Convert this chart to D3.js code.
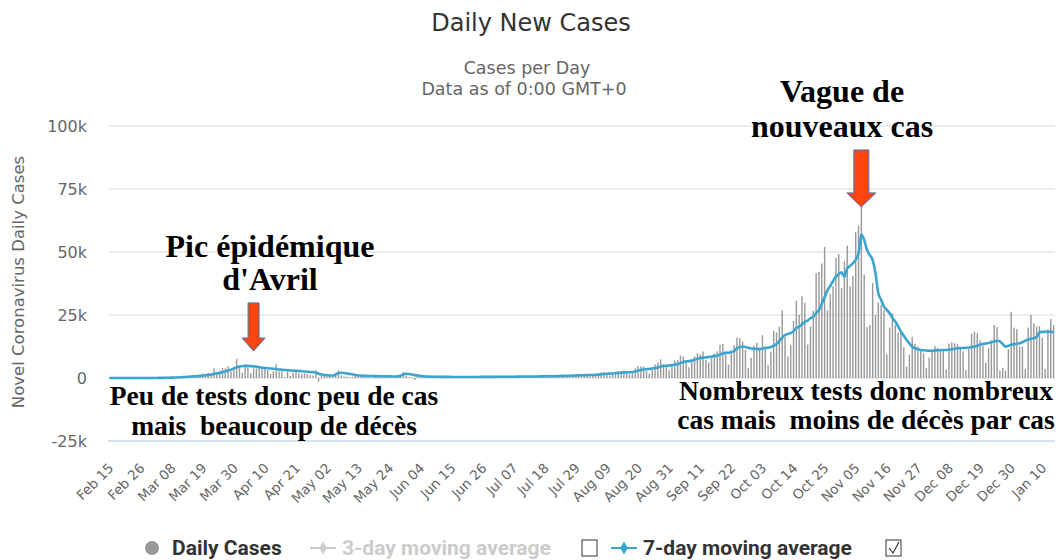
<!DOCTYPE html>
<html lang="fr">
<head>
<meta charset="UTF-8">
<title>Daily New Cases</title>
<script src="https://d3js.org/d3.v7.min.js"></script>
<style>
  body { margin: 0; background: #fff; }
  svg { display: block; }
</style>
</head>
<body>
<div id="chart"></div>
<script>
// first day of the series (one bar per day)
const startDate = "2020-02-15";

// daily new cases, one row per month (Feb 15 -> Jan 14)
const dailyCases = [
  0,0,0,0,0,0,0,0,0,0,2,4,20,19,43,
  30,61,21,73,138,190,336,177,286,372,497,595,785,838,924,1210,1097,1404,1861,1617,1847,1559,3838,2446,2931,3922,3809,4611,2599,4376,7578,
  4861,2116,5233,4267,1873,3912,3777,3881,4286,4342,3114,1613,2673,5497,2633,2641,405,2569,785,2051,2667,1827,1653,1826,1537,1320,1014,3020,-1500,1000,
  1000,600,700,300,1000,3000,1100,600,580,300,500,800,700,700,600,500,300,200,500,500,600,400,400,300,100,400,500,800,2400,1000,300,
  300,-800,800,700,600,500,350,300,400,500,500,450,400,300,200,400,450,500,450,400,300,250,400,500,550,500,450,350,300,500,
  600,600,580,500,300,250,600,700,650,650,600,400,300,400,700,800,850,800,500,400,800,1000,1100,1100,1100,700,500,1000,1300,1400,1300,
  1300,800,600,1300,1600,1700,2300,2300,1500,1000,1400,2500,2600,2800,3000,2000,1400,2200,3800,4800,4600,4500,3000,1800,3300,5400,6100,7400,5500,4900,3100,
  4982,7017,7157,8975,8550,7071,4203,6544,8577,9843,9406,10561,7183,6158,7852,9784,10593,13215,13498,10569,5298,10008,13072,16096,15797,14412,11123,4070,8051,12845,
  13970,12148,16972,12565,5084,10489,18746,18129,20339,26896,16101,8505,12993,22591,30621,25086,32427,29837,13243,20468,26676,41622,42032,45422,52010,26771,33417,36437,47637,49215,35641,
  46290,52518,36330,40558,58046,60486,86852,41000,20155,21000,37700,25000,30000,29000,27000,9400,20000,25600,21000,18000,17800,12200,4500,9200,16300,13600,12500,11200,9800,4000,
  8100,10900,12700,11900,11000,11000,3400,13700,14100,13800,13400,11500,10600,3100,11500,17600,18300,17700,15000,12800,6000,11800,15000,21000,20200,3000,4000,3000,11400,26300,20000,
  19400,12500,12400,3500,20000,25000,21700,20400,20600,15900,3600,19300,23400,21000
];

// 7-day moving average as drawn in the chart
const avg7 = [
  0,0,0,0,0,0,0,0,0,0,0,1,4,7,13,
  18,25,28,38,55,80,120,140,180,220,270,330,400,470,560,650,730,820,960,1080,1230,1330,1680,1830,1990,2280,2590,2970,3300,3800,4300,
  4600,4700,4800,4800,4700,4600,4500,4300,4100,4000,3900,3800,3700,3600,3400,3300,3200,3100,3000,2900,2850,2800,2700,2600,2500,2400,2300,2200,1700,1400,
  1200,1100,1000,900,1400,1900,2100,2000,1800,1600,1500,1200,1000,950,900,850,800,780,760,740,720,700,680,650,620,600,650,900,1500,1700,1600,
  1400,1100,1000,900,700,600,550,500,480,470,460,450,440,430,420,420,410,410,400,400,400,400,410,420,430,440,440,440,450,460,
  480,490,500,500,500,510,520,540,560,570,580,580,580,590,610,640,660,680,690,700,720,760,800,840,880,900,910,940,990,1040,1090,
  1120,1150,1170,1220,1280,1340,1480,1600,1700,1750,1780,1900,2030,2100,2200,2260,2280,2400,2580,2900,3150,3400,3550,3600,3750,3950,4200,4600,4750,4880,4950,
  5100,5300,5500,5900,6300,6600,6700,6900,7200,7600,7900,8100,8200,8350,8500,8700,8800,9300,9700,10000,10000,10300,10700,11800,12300,12400,12300,12000,11700,11600,
  11500,11400,11700,11900,12000,12300,12800,13500,14600,16000,17000,17500,17800,18500,19800,20400,21300,22300,22800,23700,24300,25800,27000,29500,32000,34900,36500,38500,40200,41200,41900,
  40200,43500,44500,45500,47000,49500,57000,54800,50800,48800,46800,41500,33600,31000,28300,27000,25700,23800,22400,20500,18400,16800,15100,13700,12400,11800,11400,11100,11000,10900,
  10800,10800,10900,11000,11100,11100,11100,11200,11400,11600,11800,11900,11900,12000,12100,12300,12400,12800,13200,13500,13700,13900,14200,14500,14800,14500,13500,12400,12800,13200,13400,
  13600,13800,14200,14800,15300,15600,15800,16200,18200,18300,18300,18400,18300,18200
];

// x axis labels (every 11th day)
const xTickLabels = ["Feb 15","Feb 26","Mar 08","Mar 19","Mar 30","Apr 10","Apr 21","May 02","May 13","May 24",
  "Jun 04","Jun 15","Jun 26","Jul 07","Jul 18","Jul 29","Aug 09","Aug 20","Aug 31","Sep 11","Sep 22",
  "Oct 03","Oct 14","Oct 25","Nov 05","Nov 16","Nov 27","Dec 08","Dec 19","Dec 30","Jan 10"];
const xTickStep = 11;

const yTicks = [-25000, 0, 25000, 50000, 75000, 100000];
const yTickLabels = ["-25k", "0", "25k", "50k", "75k", "100k"];

const width = 1063, height = 560;
const plot = { left: 108, right: 1055, top: 126, bottom: 441 };

const svg = d3.select("#chart").append("svg")
  .attr("width", width)
  .attr("height", height)
  .style("font-family", "'DejaVu Sans', Verdana, sans-serif");

const x = d3.scaleBand()
  .domain(d3.range(dailyCases.length))
  .range([plot.left, plot.right])
  .paddingInner(0.5)
  .paddingOuter(0.25);

const xc = i => x(i) + x.bandwidth() / 2;

const y = d3.scaleLinear()
  .domain([yTicks[0], yTicks[yTicks.length - 1]])
  .range([plot.bottom, plot.top]);

// titles
svg.append("text")
  .attr("x", 531).attr("y", 31)
  .attr("text-anchor", "middle")
  .attr("fill", "#333")
  .style("font-size", "24px")
  .text("Daily New Cases");

svg.append("text")
  .attr("x", 527).attr("y", 74)
  .attr("text-anchor", "middle")
  .attr("fill", "#666")
  .style("font-size", "17.5px")
  .text("Cases per Day");

svg.append("text")
  .attr("x", 524).attr("y", 95)
  .attr("text-anchor", "middle")
  .attr("fill", "#666")
  .style("font-size", "17.5px")
  .text("Data as of 0:00 GMT+0");

// gridlines
svg.append("g")
  .selectAll("line")
  .data(yTicks.slice(1))
  .join("line")
  .attr("x1", plot.left).attr("x2", plot.right)
  .attr("y1", d => y(d)).attr("y2", d => y(d))
  .attr("stroke", "#e6e6e6")
  .attr("stroke-width", 1.5);

// y axis labels
svg.append("g")
  .selectAll("text")
  .data(yTicks)
  .join("text")
  .attr("x", 87)
  .attr("y", d => y(d))
  .attr("dy", "0.35em")
  .attr("text-anchor", "end")
  .attr("fill", "#666")
  .style("font-size", "16px")
  .text((d, i) => yTickLabels[i]);

svg.append("text")
  .attr("transform", "translate(24,282) rotate(-90)")
  .attr("text-anchor", "middle")
  .attr("fill", "#666")
  .style("font-size", "16.5px")
  .text("Novel Coronavirus Daily Cases");

// bars
svg.append("g")
  .selectAll("rect")
  .data(dailyCases)
  .join("rect")
  .attr("x", (d, i) => x(i))
  .attr("width", x.bandwidth())
  .attr("y", d => Math.min(y(d), y(0)))
  .attr("height", d => Math.abs(y(d) - y(0)))
  .attr("fill", "#999");

// x axis line
svg.append("line")
  .attr("x1", plot.left).attr("x2", plot.right)
  .attr("y1", plot.bottom).attr("y2", plot.bottom)
  .attr("stroke", "#ccd6eb")
  .attr("stroke-width", 1.5);

// x labels
svg.append("g")
  .selectAll("text")
  .data(xTickLabels)
  .join("text")
  .attr("transform", (d, k) => `translate(${xc(k * xTickStep) + 5},${plot.bottom + 28}) rotate(-45)`)
  .attr("text-anchor", "end")
  .attr("fill", "#666")
  .style("font-size", "13.5px")
  .text(d => d);

// 7-day average line
const line = d3.line()
  .x((d, i) => xc(i))
  .y(d => y(d))
  .curve(d3.curveMonotoneX);

svg.append("path")
  .datum(avg7)
  .attr("d", line)
  .attr("fill", "none")
  .attr("stroke", "#3ba5cf")
  .attr("stroke-width", 2.6);

// annotations
const serif = "'Liberation Serif', 'Times New Roman', serif";
function note(lines, cx, y0, lh, size) {
  const t = svg.append("text")
    .attr("text-anchor", "middle")
    .attr("fill", "#000")
    .style("font-family", serif)
    .style("font-weight", "bold")
    .style("font-size", size + "px")
    .style("white-space", "pre");
  lines.forEach((s, i) => t.append("tspan").attr("x", cx).attr("y", y0 + i * lh).text(s));
}
note(["Pic épidémique", "d'Avril"], 270, 257, 33, 32);
note(["Vague de", "nouveaux cas"], 842, 102, 35, 32);
note(["Peu de tests donc peu de cas", "mais  beaucoup de décès"], 274, 405, 30, 27.5);
note(["Nombreux tests donc nombreux", "cas mais  moins de décès par cas"], 866, 400, 29, 27.5);

// arrows pointing at a day / value
function arrow(idx, vTop, vTip, shaftW, headW, headH) {
  const cx = xc(idx), top = y(vTop), tip = y(vTip);
  const pts = [
    [cx - shaftW / 2, top], [cx + shaftW / 2, top], [cx + shaftW / 2, tip - headH],
    [cx + headW / 2, tip - headH], [cx, tip], [cx - headW / 2, tip - headH],
    [cx - shaftW / 2, tip - headH]
  ];
  svg.append("path")
    .attr("d", d3.line()(pts) + "Z")
    .attr("fill", "#ff4410")
    .attr("stroke", "#4a72b0")
    .attr("stroke-width", 1);
}
arrow(51, 29800, 10700, 11, 23, 13);
arrow(266, 90500, 67900, 15, 29, 14);

// legend
const leg = svg.append("g")
  .style("font-family", "'Liberation Sans Narrow', 'Roboto', sans-serif")
  .style("font-weight", "bold")
  .style("font-size", "21px");
const ly = 548;
leg.append("circle").attr("cx", 152).attr("cy", ly).attr("r", 7).attr("fill", "#999");
leg.append("text").attr("x", 172).attr("y", ly + 7).attr("fill", "#333").text("Daily Cases");

function lineSymbol(x0, color) {
  leg.append("line").attr("x1", x0).attr("x2", x0 + 26).attr("y1", ly).attr("y2", ly)
    .attr("stroke", color).attr("stroke-width", 2);
  leg.append("path").attr("d", d3.symbol(d3.symbolDiamond, 50)())
    .attr("transform", `translate(${x0 + 13},${ly})`).attr("fill", color);
}
lineSymbol(310, "#ccc");
leg.append("text").attr("x", 342).attr("y", ly + 7).attr("fill", "#ccc").text("3-day moving average");

function checkbox(x0, checked) {
  svg.append("rect").attr("x", x0).attr("y", ly - 8).attr("width", 15).attr("height", 16)
    .attr("fill", "#fff").attr("stroke", "#333").attr("stroke-width", 1);
  if (checked) {
    svg.append("path").attr("d", `M${x0 + 3},${ly} L${x0 + 7},${ly + 5} L${x0 + 13},${ly - 6}`)
      .attr("fill", "none").attr("stroke", "#333").attr("stroke-width", 1.2);
  }
}
checkbox(582, false);
lineSymbol(611, "#3ba5cf");
leg.append("text").attr("x", 643).attr("y", ly + 7).attr("fill", "#333").text("7-day moving average");
checkbox(886, true);
</script>
</body>
</html>
